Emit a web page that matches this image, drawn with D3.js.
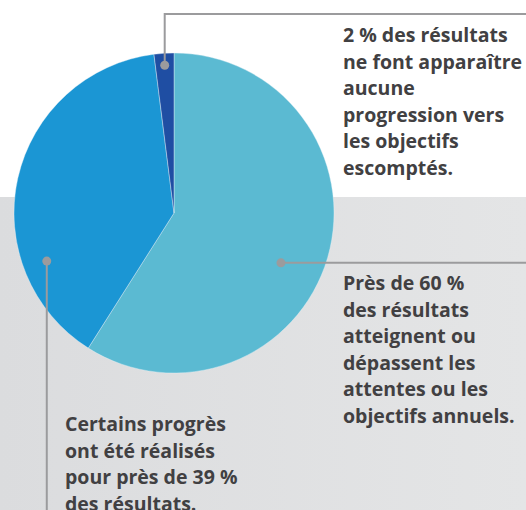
<!DOCTYPE html>
<html>
<head>
<meta charset="utf-8">
<script src="https://cdn.jsdelivr.net/npm/d3@7"></script>
<style>
  html, body { margin: 0; padding: 0; background: #fff; }
  svg { display: block; }
</style>
</head>
<body>
<div id="chart"></div>
<script>
// slice data, clockwise from 12 o'clock
var categories = ["Atteint ou dépassé", "Certains progrès", "Aucune progression"];
var values = [59, 39, 2];
var colors = ["#5bbad2", "#1b96d4", "#1f4ea3"];

// annotation text, one array per label
var labelTop = ["2 % des résultats", "ne font apparaître", "aucune", "progression vers", "les objectifs", "escomptés."];
var labelRight = ["Près de 60 %", "des résultats", "atteignent ou", "dépassent les", "attentes ou les", "objectifs annuels."];
var labelLeft = ["Certains progrès", "ont été réalisés", "pour près de 39 %", "des résultats."];

var w = 526, h = 510;
var cx = 174, cy = 213, r = 160;
var LINE_H = 26.5;
var FONT_SIZE = 19.5;

var svg = d3.select("#chart")
    .append("svg")
    .attr("width", w)
    .attr("height", h);

// gray band behind lower half
var grad = svg.append("defs").append("linearGradient")
    .attr("id", "band")
    .attr("x1", "0%").attr("x2", "100%");
grad.append("stop").attr("offset", "0%").attr("stop-color", "#dbdcde");
grad.append("stop").attr("offset", "100%").attr("stop-color", "#e4e5e6");

svg.append("rect")
    .attr("x", 0)
    .attr("y", 197)
    .attr("width", w)
    .attr("height", h - 197)
    .attr("fill", "url(#band)");

var pie = d3.pie().sort(null).value(function (d) { return d; });
var arc = d3.arc().innerRadius(0).outerRadius(r);
var arcs = pie(values);

var g = svg.append("g").attr("transform", "translate(" + cx + "," + cy + ")");

g.selectAll("path")
    .data(arcs)
    .enter()
    .append("path")
    .attr("d", arc)
    .attr("fill", function (d, i) { return colors[i]; })
    .attr("stroke", "#e8f2f8")
    .attr("stroke-width", 0.4);

// point on the pie: angle in degrees clockwise from top, radius in px
function polar(deg, rad) {
    var a = deg * Math.PI / 180;
    return [cx + rad * Math.sin(a), cy - rad * Math.cos(a)];
}

var lineColor = "#9b9b9d";

//top leader: into the small slice, up, then right to the edge
var mid2 = (arcs[2].startAngle + arcs[2].endAngle) / 2 * 180 / Math.PI;
var pTop = polar(mid2, 148);
svg.append("path")
    .attr("d", "M" + pTop[0] + "," + pTop[1] + "V14H" + w)
    .attr("fill", "none")
    .attr("stroke", lineColor)
    .attr("stroke-width", 2);

//right leader
var pRight = polar(115, 118);
svg.append("path")
    .attr("d", "M" + pRight[0] + "," + pRight[1] + "H" + w)
    .attr("fill", "none")
    .attr("stroke", lineColor)
    .attr("stroke-width", 2);

//left leader, straight down
var pLeft = polar(249.3, 136);
svg.append("path")
    .attr("d", "M" + pLeft[0] + "," + pLeft[1] + "V" + h)
    .attr("fill", "none")
    .attr("stroke", lineColor)
    .attr("stroke-width", 2);

[pTop, pRight, pLeft].forEach(function (p) {
    svg.append("circle")
        .attr("cx", p[0])
        .attr("cy", p[1])
        .attr("r", 4.5)
        .attr("fill", lineColor);
});

function drawLabel(lines, x, y) {
    svg.append("g").selectAll("text")
        .data(lines)
        .enter()
        .append("text")
        .attr("x", x)
        .attr("y", function (d, i) { return y + i * LINE_H; })
        .text(function (d) { return d; })
        .style("font-family", "'Open Sans', sans-serif")
        .style("font-weight", "700")
        .style("font-size", FONT_SIZE + "px")
        .style("fill", "#414042");
}

drawLabel(labelTop, 343, 42);
drawLabel(labelRight, 343, 290);
drawLabel(labelLeft, 65, 431);
</script>
</body>
</html>
